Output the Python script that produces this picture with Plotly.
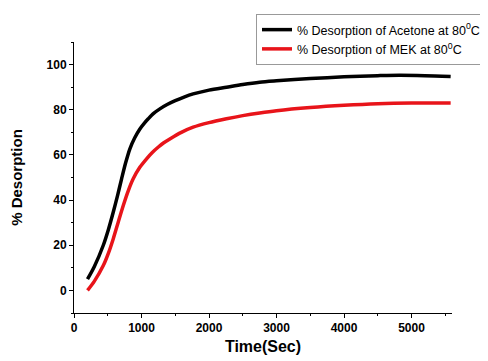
import plotly.graph_objects as go

acetone_x = [200, 300, 434, 510, 582, 645, 705, 765, 828, 900, 976, 1040, 1100, 1180, 1272, 1380, 1500, 1630, 1765, 2000, 2259, 2500, 2751, 3000, 3500, 4000, 4500, 4822, 5200, 5580]
acetone_y = [5, 10.5, 20, 27, 34.7, 42, 49.4, 56.5, 62.7, 67.6, 71.5, 74, 76, 78.4, 80.4, 82.3, 84, 85.6, 87, 88.7, 90, 91.2, 92.2, 92.8, 93.8, 94.6, 95.1, 95.3, 95.1, 94.7]
mek_x = [200, 300, 434, 510, 582, 655, 730, 805, 877, 975, 1075, 1160, 1250, 1330, 1420, 1590, 1765, 2000, 2259, 2500, 2751, 3000, 3500, 4000, 4500, 5000, 5580]
mek_y = [0, 4, 11, 16.5, 22.9, 30.2, 37.6, 44.2, 49.4, 54.5, 58.3, 61.1, 63.5, 65.4, 67.1, 70, 72.3, 74.3, 76, 77.4, 78.6, 79.6, 81, 82, 82.7, 83, 83]

x_ticks = [0, 1000, 2000, 3000, 4000, 5000]
y_ticks = [0, 20, 40, 60, 80, 100]

fig = go.Figure()
fig.add_trace(go.Scatter(x=acetone_x, y=acetone_y, mode="lines",
                         line=dict(color="black", width=3.5, shape="spline", smoothing=0.8),
                         name="% Desorption of Acetone at 80<sup>0</sup>C"))
fig.add_trace(go.Scatter(x=mek_x, y=mek_y, mode="lines",
                         line=dict(color="#e8141a", width=3.5, shape="spline", smoothing=0.8),
                         name="% Desorption of MEK at 80<sup>0</sup>C"))

W, H = 480, 353
axfont = dict(family="Arial, Liberation Sans", size=12, color="black", weight="bold")
fig.update_layout(
    width=W, height=H,
    margin=dict(l=66, r=36, t=34, b=48, autoexpand=False),
    plot_bgcolor="white", paper_bgcolor="white",
    font=dict(family="Arial, Liberation Sans", color="black"),
    legend=dict(xref="container", yref="container", x=248/W, y=1-6/H, xanchor="left", yanchor="top",
                bordercolor="#999", borderwidth=1,
                font=dict(size=12.5, family="Arial, Liberation Sans"), itemwidth=30, tracegroupgap=0,
                bgcolor="white"),
    xaxis=dict(range=[0, 5600], tickvals=x_ticks, showgrid=False, zeroline=False, showline=True, linecolor="black",
               linewidth=1, ticks="outside", ticklen=4, tickcolor="black", tickfont=axfont, automargin=False,
               minor=dict(dtick=500, ticks="outside", ticklen=2, tickcolor="black"),
               title=dict(text="Time(Sec)", font=dict(size=16, weight="bold"), standoff=6)),
    yaxis=dict(range=[-10, 110], tickvals=y_ticks, showgrid=False, zeroline=False, showline=True, linecolor="black",
               linewidth=1, ticks="outside", ticklen=4, tickcolor="black", tickfont=axfont, automargin=False,
               minor=dict(dtick=10, ticks="outside", ticklen=2, tickcolor="black"),
               title=dict(text="% Desorption", font=dict(size=15, weight="bold"), standoff=27)),
)
fig.write_html("out.html")
